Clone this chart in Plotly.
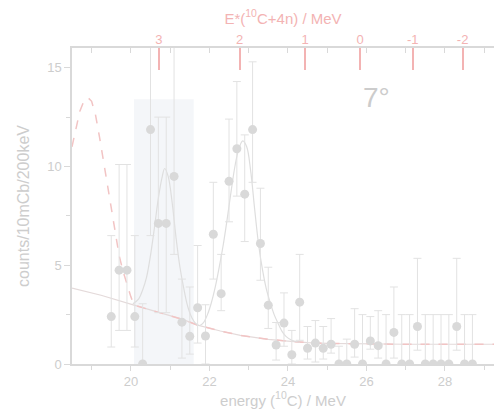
import plotly.graph_objects as go

# Measured spectrum: 200 keV bins, counts per 10 mC beam charge
energy = [19.5, 19.7, 19.9, 20.1, 20.3, 20.5, 20.7, 20.9, 21.1, 21.3, 21.5, 21.7,
          21.9, 22.1, 22.3, 22.5, 22.7, 22.9, 23.1, 23.3, 23.5, 23.7, 23.9, 24.1,
          24.3, 24.5, 24.7, 24.9, 25.1, 25.3, 25.5, 25.7, 25.9, 26.1, 26.3, 26.5,
          26.7, 26.9, 27.1, 27.3, 27.5, 27.7, 27.9, 28.1, 28.3, 28.5, 28.7]
counts = [2.4, 4.75, 4.75, 2.4, 0.0, 11.87, 7.12, 7.12, 9.5, 2.12, 1.4, 2.85,
          1.42, 6.57, 3.56, 9.25, 10.9, 8.6, 11.87, 6.1, 2.98, 0.96, 2.07, 0.47,
          3.13, 0.8, 1.06, 0.8, 1.0, 0.0, 0.0, 1.0, 0.0, 1.17, 0.93, 0.0,
          1.6, 0.0, 0.0, 1.9, 0.0, 0.0, 0.0, 0.0, 1.9, 0.0, 0.0]
upper = [6.5, 10.1, 10.1, 6.5, 3.05, 18.0, 12.5, 12.5, 18.0, 4.3, 3.9, 6.0,
         3.0, 9.2, 5.55, 12.4, 14.3, 11.6, 15.3, 8.9, 4.9, 2.1, 3.6, 1.7,
         5.55, 1.9, 2.2, 1.9, 2.3, 0.9, 1.26, 2.8, 2.5, 2.4, 2.7, 2.5,
         3.9, 2.5, 2.5, 5.35, 2.5, 2.5, 2.5, 2.5, 5.35, 2.5, 2.5]
lower = [0.86, 1.7, 1.7, 0.86, 0.0, 6.5, 2.6, 2.6, 5.55, 0.3, 0.5, 1.06,
         0.0, 4.3, 2.7, 7.2, 8.5, 6.2, 9.2, 4.24, 1.8, 0.2, 0.9, 0.0,
         1.2, 0.25, 0.1, 0.25, 0.55, 0.0, 0.0, 0.35, 0.0, 0.75, 0.3, 0.0,
         0.3, 0.0, 0.0, 0.7, 0.0, 0.0, 0.0, 0.0, 0.7, 0.0, 0.0]

# Smooth background curve
bg_e = [18.5, 19.24, 20.08, 20.7, 21.3, 21.7, 22.28, 22.79, 23.1, 23.5, 24.0,
        24.5, 25.0, 26.0, 27.0, 29.3]
bg_y = [3.84, 3.48, 2.98, 2.62, 2.27, 1.97, 1.67, 1.45, 1.36, 1.25, 1.16,
        1.08, 1.04, 1.01, 1.0, 1.0]

# Fit with two peaks on top of the background
fit_e = [20.05, 20.2, 20.3, 20.4, 20.5, 20.6, 20.7, 20.8, 20.86, 20.95, 21.05,
         21.15, 21.25, 21.35, 21.45, 21.55, 21.65, 21.75, 21.85, 21.95, 22.05,
         22.15, 22.25, 22.35, 22.45, 22.55, 22.65, 22.75, 22.85, 22.95, 23.05,
         23.15, 23.25, 23.35, 23.45, 23.55, 23.65, 23.75, 23.85, 23.95, 24.1, 24.3]
fit_y = [3.05, 3.3, 3.75, 4.4, 5.5, 6.9, 8.4, 9.5, 9.9, 9.5, 8.2,
         6.4, 4.9, 3.8, 2.9, 2.35, 2.05, 1.95, 2.1, 2.5, 3.1,
         3.9, 4.9, 6.0, 7.3, 8.7, 10.0, 10.9, 11.3, 11.0, 9.8,
         7.9, 6.1, 4.8, 3.8, 3.1, 2.5, 2.05, 1.65, 1.4, 1.2, 1.1]

# Low-energy peak (dashed); its tail merges into the background
dash_e = [18.5, 18.6, 18.7, 18.8, 18.9, 19.0, 19.1, 19.2, 19.3, 19.4, 19.5,
          19.6, 19.7, 19.8, 19.9, 20.0, 20.08]
dash_y = [11.0, 11.9, 12.8, 13.3, 13.5, 13.3, 12.6, 11.5, 10.3, 9.0, 7.7,
          6.5, 5.5, 4.7, 4.0, 3.4, 2.98]

# Upper scale: excitation energy of 10C+4n
ex_pos = [20.71, 22.77, 24.44, 25.84, 27.18, 28.45]
ex_labels = ["3", "2", "1", "0", "-1", "-2"]

# Highlighted energy window
band_x = [20.08, 21.6]
band_top = 13.4

X_RANGE = [18.5, 29.25]
Y_RANGE = [0, 16]
FONT = "Liberation Sans, Arial, sans-serif"
GREY_TXT = "#cdcdcd"
PINK = "#f3b3b3"

err_plus = [u - c for u, c in zip(upper, counts)]
err_minus = [c - l for c, l in zip(counts, lower)]

# dashed curve: peak part, then continues on the background
tail = [i for i, e in enumerate(bg_e) if e > dash_e[-1]]
dash_full_e = dash_e + [bg_e[i] for i in tail]
dash_full_y = dash_y + [bg_y[i] for i in tail]

fig = go.Figure()

fig.add_shape(type="rect", xref="x", yref="y", x0=band_x[0], x1=band_x[1],
              y0=0, y1=band_top, fillcolor="#f4f6f9", line_width=0, layer="below")

fig.add_trace(go.Scatter(x=bg_e, y=bg_y, mode="lines",
                         line=dict(color="#e4dada", width=1.2), hoverinfo="skip"))
fig.add_trace(go.Scatter(x=dash_full_e, y=dash_full_y, mode="lines",
                         line=dict(color="#f2c4c4", width=1.5, dash="dash"),
                         hoverinfo="skip"))
fig.add_trace(go.Scatter(x=fit_e, y=fit_y, mode="lines", line_shape="spline",
                         line=dict(color="#dedede", width=1.2), hoverinfo="skip"))
fig.add_trace(go.Scatter(
    x=energy, y=counts, mode="markers",
    marker=dict(color="#d9d9d9", size=9),
    error_y=dict(type="data", symmetric=False, array=err_plus,
                 arrayminus=err_minus, color="#e2e2e2", thickness=1, width=4),
))

# invisible traces to activate the upper axes
fig.add_trace(go.Scatter(x=X_RANGE, y=[None, None], xaxis="x2", mode="lines",
                         showlegend=False, hoverinfo="skip"))
fig.add_trace(go.Scatter(x=X_RANGE, y=[None, None], xaxis="x3", mode="lines",
                         showlegend=False, hoverinfo="skip"))

fig.add_annotation(x=26.25, y=13.5, text="7°", showarrow=False,
                   font=dict(family=FONT, size=28, color="#cccccc"))

fig.update_layout(
    width=494, height=411,
    margin=dict(l=72, r=0, t=48, b=47),
    paper_bgcolor="white", plot_bgcolor="white",
    showlegend=False,
    font=dict(family=FONT, color=GREY_TXT, size=13),
    xaxis=dict(
        range=X_RANGE, showgrid=False, zeroline=False,
        showline=True, linecolor="#d9d9d9", linewidth=1.5,
        ticks="outside", ticklen=5, tickcolor="#d9d9d9",
        tick0=0, dtick=2,
        minor=dict(dtick=1, ticks="outside", ticklen=4, tickcolor="#d9d9d9"),
        tickfont=dict(size=13, color=GREY_TXT),
        title=dict(text="energy (<sup>10</sup>C) / MeV", standoff=6,
                   font=dict(size=15, color=GREY_TXT)),
    ),
    xaxis2=dict(
        range=X_RANGE, overlaying="x", side="top", anchor="y",
        showgrid=False, zeroline=False, showline=False,
        tickmode="array", tickvals=ex_pos, ticktext=ex_labels,
        ticks="inside", ticklen=22, tickwidth=2, tickcolor=PINK,
        tickfont=dict(size=13, color=PINK),
        title=dict(text="E*(<sup>10</sup>C+4n) / MeV", standoff=4,
                   font=dict(size=15, color=PINK)),
    ),
    xaxis3=dict(
        range=X_RANGE, overlaying="x", side="top", anchor="y",
        showgrid=False, zeroline=False,
        showline=True, linecolor="#d9d9d9", linewidth=1.5,
        showticklabels=False, tick0=0, dtick=1,
        ticks="inside", ticklen=5, tickcolor="#d9d9d9",
    ),
    yaxis=dict(
        range=Y_RANGE, showgrid=False, zeroline=False,
        showline=True, linecolor="#d9d9d9", linewidth=1.5,
        ticks="outside", ticklen=6, tickcolor="#d9d9d9",
        tickvals=[0, 5, 10, 15],
        minor=dict(tickvals=[2.5, 7.5, 12.5], ticks="outside", ticklen=4,
                   tickcolor="#d9d9d9"),
        tickfont=dict(size=13, color=GREY_TXT),
        title=dict(text="counts/10mCb/200keV", standoff=14,
                   font=dict(size=16, color=GREY_TXT)),
    ),
)

fig.write_html("out.html")
